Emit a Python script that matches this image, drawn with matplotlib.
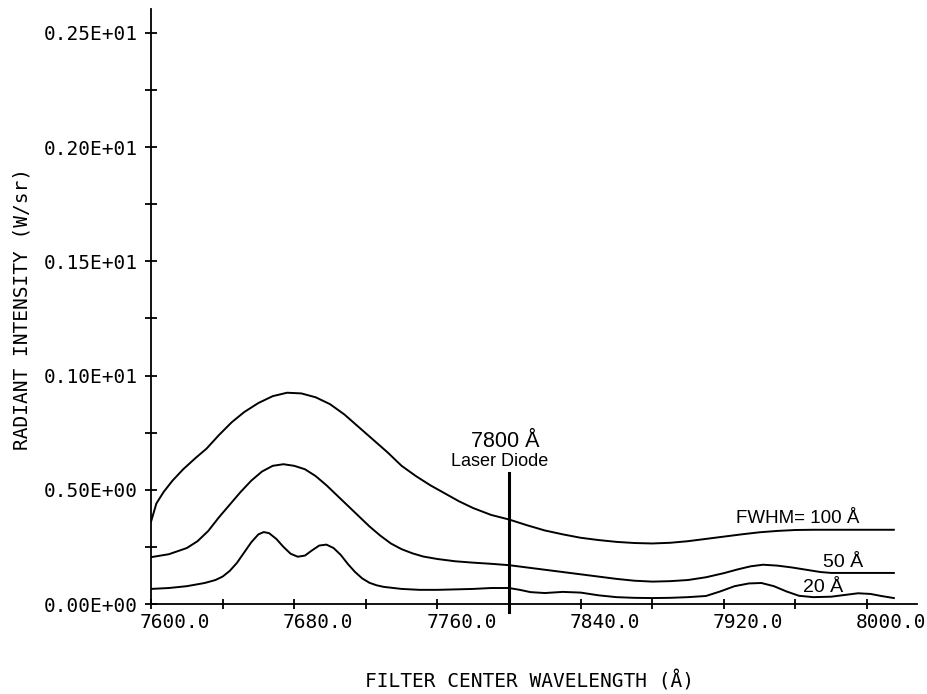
import matplotlib
matplotlib.use("Agg")
import matplotlib.pyplot as plt
from matplotlib.transforms import ScaledTranslation
from matplotlib.ticker import FixedLocator

# ---------------- data ----------------
wl_100 = [7600, 7603, 7607, 7612, 7618, 7625, 7631, 7638, 7645, 7652, 7660, 7668,
          7676, 7684, 7692, 7700, 7708, 7716, 7724, 7732, 7740, 7748, 7756, 7764,
          7772, 7780, 7790, 7800, 7810, 7820, 7830, 7840, 7850, 7860, 7870, 7880,
          7890, 7900, 7910, 7920, 7930, 7940, 7950, 7960, 7970, 7980, 7990, 8000,
          8010, 8015]
fwhm_100 = [0.36, 0.44, 0.49, 0.54, 0.59, 0.64, 0.68, 0.74, 0.795, 0.84, 0.88, 0.91,
            0.925, 0.922, 0.905, 0.875, 0.83, 0.775, 0.72, 0.665, 0.605, 0.56, 0.52, 0.485,
            0.45, 0.42, 0.39, 0.37, 0.345, 0.322, 0.305, 0.29, 0.28, 0.272, 0.267, 0.265,
            0.268, 0.275, 0.285, 0.295, 0.305, 0.314, 0.32, 0.324, 0.325, 0.325, 0.325, 0.325,
            0.325, 0.325]

wl_50 = [7600, 7610, 7620, 7626, 7632, 7638, 7644, 7650, 7656, 7662, 7668, 7674,
         7680, 7686, 7692, 7698, 7704, 7710, 7716, 7722, 7728, 7734, 7740, 7746,
         7752, 7760, 7770, 7780, 7790, 7800, 7810, 7820, 7830, 7840, 7850, 7860,
         7870, 7880, 7890, 7900, 7910, 7920, 7928, 7935, 7942, 7950, 7958, 7966,
         7974, 7980, 7990, 8000, 8010, 8015]
fwhm_50 = [0.205, 0.218, 0.245, 0.275, 0.32, 0.38, 0.435, 0.49, 0.54, 0.58, 0.605, 0.612,
           0.605, 0.59, 0.56, 0.52, 0.475, 0.43, 0.385, 0.34, 0.30, 0.265, 0.24, 0.222,
           0.208, 0.197, 0.187, 0.181, 0.176, 0.17, 0.16, 0.15, 0.14, 0.13, 0.12, 0.11,
           0.102, 0.098, 0.10, 0.105, 0.117, 0.135, 0.152, 0.165, 0.172, 0.168, 0.16, 0.15,
           0.14, 0.136, 0.136, 0.136, 0.136, 0.136]

wl_20 = [7600, 7610, 7620, 7630, 7636, 7640, 7644, 7648, 7652, 7656, 7660, 7663,
         7666, 7670, 7674, 7678, 7682, 7686, 7690, 7694, 7698, 7702, 7706, 7710,
         7714, 7718, 7722, 7726, 7730, 7740, 7750, 7760, 7770, 7780, 7790, 7800,
         7806, 7812, 7820, 7830, 7840, 7850, 7860, 7870, 7880, 7890, 7900, 7910,
         7918, 7926, 7934, 7941, 7948, 7955, 7962, 7970, 7980, 7988, 7995, 8002,
         8008, 8015]
fwhm_20 = [0.066, 0.07, 0.078, 0.092, 0.105, 0.12, 0.145, 0.18, 0.225, 0.27, 0.305, 0.315,
           0.31, 0.285, 0.25, 0.22, 0.207, 0.212, 0.235, 0.256, 0.26, 0.245, 0.215, 0.175,
           0.14, 0.112, 0.093, 0.082, 0.075, 0.066, 0.062, 0.062, 0.064, 0.066, 0.07, 0.07,
           0.062, 0.052, 0.048, 0.053, 0.05, 0.038, 0.03, 0.027, 0.026, 0.027, 0.03, 0.035,
           0.055, 0.078, 0.09, 0.092, 0.078, 0.055, 0.036, 0.03, 0.032, 0.04, 0.047, 0.044,
           0.035, 0.026]

laser_wl = 7800
x_major = [7600, 7680, 7760, 7840, 7920, 8000]
x_labels = ["7600.0", "7680.0", "7760.0", "7840.0", "7920.0", "8000.0"]
x_minor = [7640, 7720, 7800, 7880, 7960]
y_major = [0.0, 0.5, 1.0, 1.5, 2.0, 2.5]
y_labels = ["0.00E+00", "0.50E+00", "0.10E+01", "0.15E+01", "0.20E+01", "0.25E+01"]
y_minor = [0.25, 0.75, 1.25, 1.75, 2.25]

# ---------------- figure ----------------
W, H = 928, 694
fig = plt.figure(figsize=(W / 100, H / 100), dpi=100)
ax = fig.add_axes([151 / W, 90 / H, 766 / W, 595 / H])
ax.set_xlim(7600, 7600 + 766 / 1.79)
ax.set_ylim(0, 595 / 228.4)

for s in ("top", "right"):
    ax.spines[s].set_visible(False)
for s in ("left", "bottom"):
    ax.spines[s].set_linewidth(1.3)

lw = 1.4
ax.plot(wl_100, fwhm_100, color="black", lw=lw)
ax.plot(wl_50, fwhm_50, color="black", lw=lw)
ax.plot(wl_20, fwhm_20, color="black", lw=lw)
ax.plot([laser_wl, laser_wl], [-0.035, 0.574], color="black", lw=2.2, clip_on=False)

mono = "DejaVu Sans Mono"
ax.xaxis.set_major_locator(FixedLocator(x_major))
ax.xaxis.set_minor_locator(FixedLocator(x_minor))
ax.set_xticklabels(x_labels, family=mono, fontsize=14)
ax.yaxis.set_major_locator(FixedLocator(y_major))
ax.yaxis.set_minor_locator(FixedLocator(y_minor))
ax.set_yticklabels(y_labels, family=mono, fontsize=14)

ax.tick_params(axis="both", which="both", direction="inout", width=1.3, color="black")
ax.tick_params(axis="x", which="both", length=7.5)
ax.tick_params(axis="x", which="major", pad=3)
ax.tick_params(axis="y", which="both", length=8.5)
ax.tick_params(axis="y", which="major", pad=5)

off = ScaledTranslation(24 / 100, 0, fig.dpi_scale_trans)
for lab in ax.get_xticklabels():
    lab.set_transform(lab.get_transform() + off)

sans = "Liberation Sans"
ax.text(7797.8, 0.687, "7800 Å", ha="center", va="baseline", family=sans, fontsize=15.5)
ax.text(7795, 0.604, "Laser Diode", ha="center", va="baseline", family=sans, fontsize=13)
ax.text(7961.5, 0.355, "FWHM= 100 Å", ha="center", va="baseline", family=sans, fontsize=13.5)
ax.text(7986.6, 0.162, "50 Å", ha="center", va="baseline", family=sans, fontsize=14)
ax.text(7975.4, 0.0525, "20 Å", ha="center", va="baseline", family=sans, fontsize=14)

fig.text(530 / W, 1 - 681 / H, "FILTER CENTER WAVELENGTH (Å)", ha="center", va="center",
         family=mono, fontsize=14)
fig.text(22 / W, 1 - 309 / H, "RADIANT INTENSITY (W/sr)", ha="center", va="center",
         rotation=90, family=mono, fontsize=14)

fig.savefig("out.png", dpi=100)
